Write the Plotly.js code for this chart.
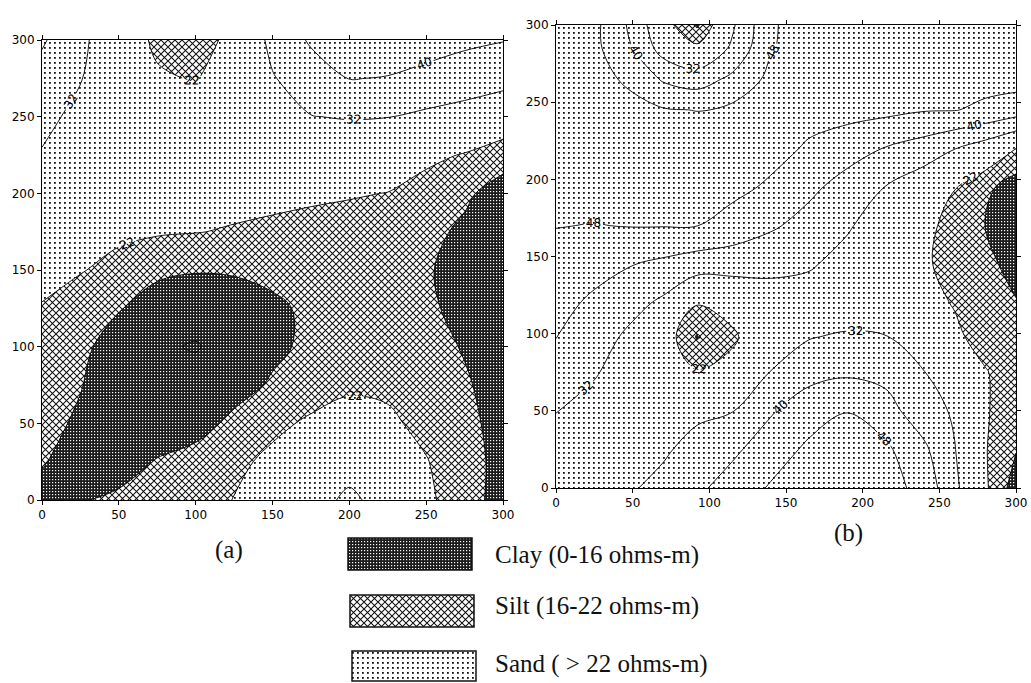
<!DOCTYPE html>
<html><head><meta charset="utf-8">
<script src="https://cdn.plot.ly/plotly-3.0.1.min.js"></script>
<style>html,body{margin:0;padding:0;background:#fff;}#chart{width:1031px;height:683px;}</style>
</head><body><div id="chart"></div>
<script>
// ---------- data ----------
const tickVals = [0, 50, 100, 150, 200, 250, 300];
const tickText = ['0', '50', '100', '150', '200', '250', '300'];

// panel (a) grid (ohm-m), rows from y=0 to y=300
const xA = [0, 25, 50, 75, 100, 125, 150, 175, 200, 225, 250, 275, 300];
const yA = [0, 25, 50, 75, 100, 125, 150, 175, 200, 225, 250, 275, 300];
const zA = [
  [14, 15.5, 17.5, 19, 20.5, 22.1, 25, 28, 34, 28, 23.3, 18.5, 13.7],
  [16.5, 13, 12.5, 16.5, 18.5, 20.5, 23.5, 26, 28, 26, 22.3, 18.5, 14],
  [18, 15, 12, 11.5, 13.5, 17.5, 20.5, 23, 24.5, 23, 20.5, 17.5, 14],
  [19.5, 16.3, 12, 10.5, 11, 13.5, 16.8, 19, 21, 21, 19.5, 16.8, 13],
  [20.5, 18, 12, 9, 7.5, 11, 14.5, 17.5, 19.5, 20, 18.5, 15.5, 11],
  [21.7, 19.5, 16.5, 12.5, 11, 12, 14.5, 17.5, 19, 19, 17.2, 14, 11],
  [23.5, 22.3, 20.5, 17.5, 16.5, 16.8, 18, 19, 19.5, 18.5, 16.8, 13, 10],
  [26, 24.5, 23, 22.6, 22.2, 21.5, 21, 20.5, 20, 19, 17.5, 15, 12],
  [28, 27, 26, 25, 24.5, 24, 23.3, 22.8, 22.4, 21.9, 19.5, 17, 13.5],
  [31.5, 29.5, 28, 27, 26.5, 26, 26, 26.5, 26, 25, 23.5, 21.6, 18.5],
  [34, 30, 28, 27, 27.5, 28.5, 30.5, 31.8, 32.5, 32.2, 30.5, 29, 27],
  [37, 32.3, 28, 23, 21.5, 27, 31.5, 36, 40.2, 39.7, 38, 36.1, 34.4],
  [41, 33.5, 27, 20.5, 19, 24, 34, 41, 43, 44, 43, 41.5, 40.3]
];

// panel (b) grid (ohm-m), rows from y=0 to y=300
const xB = [0, 25, 50, 70, 92, 115, 140, 165, 190, 215, 240, 260, 280, 300];
const yB = [0, 25, 50, 75, 98, 120, 145, 170, 195, 220, 245, 265, 285, 300];
const zB = [
  [28, 29.5, 31.5, 34, 38.5, 43.3, 48.8, 52, 54, 51.5, 45.1, 33.7, 23, 13],
  [29, 28, 29.5, 31, 34.5, 38.5, 44, 49.5, 51.5, 49.5, 41.5, 32.3, 22.4, 16.3],
  [32.2, 30, 27, 28, 30.5, 31.7, 39.2, 44.4, 47.8, 43, 35.4, 31, 22.6, 18.5],
  [36.4, 32.5, 29, 26.5, 22.5, 24.5, 32.2, 37.4, 38.7, 37.7, 32.2, 27.4, 22.5, 18],
  [40.2, 35.7, 30, 26, 15.5, 20.8, 28, 31.5, 33.2, 32.3, 28, 23.5, 19, 17.5],
  [42.6, 38.5, 34.4, 30.5, 22.5, 25, 28, 28.5, 26, 26, 24.5, 21.5, 18.5, 16.3],
  [45.4, 42.9, 40.2, 38.3, 35.8, 35.2, 34.3, 32.8, 29.5, 27.5, 22.8, 20, 17.5, 14],
  [48.2, 47.8, 48.3, 48.3, 48.1, 45.1, 41.1, 37.3, 32.8, 28, 24, 19.5, 15.8, 11],
  [51, 50.5, 50.5, 50.5, 50, 50, 46.9, 41.7, 37.1, 31.8, 27, 22.3, 17.5, 13],
  [52, 51.5, 51, 51, 50.5, 50.5, 50.5, 47.1, 43.1, 39.6, 36.3, 32.2, 28, 22],
  [52, 52, 50.5, 48.6, 47.8, 49.8, 51.5, 50.5, 51, 50, 48.5, 48.3, 46.5, 44],
  [52, 51, 46.1, 39, 36.1, 41.8, 50, 52, 52, 52, 51.5, 51, 50.5, 51],
  [52, 50, 40, 28.5, 23.6, 33.3, 47.4, 52, 53, 53, 53, 53, 52.5, 52],
  [52, 50, 38, 25.1, 15, 30.8, 47, 52, 53, 53, 53, 53, 52.5, 52]
];

// class limits (ohm-m)
const clayMax = 16;
const siltMax = 22;
const innerLevel = 8;
const labeledLevels = [32, 40, 48];
const legendLabels = ['Clay (0-16 ohms-m)', 'Silt (16-22 ohms-m)', 'Sand ( > 22 ohms-m)'];
const panelLabels = ['(a)', '(b)'];

// ---------- styles ----------
const W = 1031, H = 683;
const CLAY_C = 'rgb(40,40,40)', SILT_C = 'rgb(150,150,150)', SAND_C = 'rgb(235,235,235)';
const lineStyle = {color: '#000', width: 0.9, smoothing: 1};
const labelFont = {family: 'DejaVu Sans', size: 12, color: '#000'};

function panelTraces(x, y, z, xa, ya, topLevel) {
  const common = {type: 'contour', x: x, y: y, z: z, xaxis: xa, yaxis: ya,
    autocontour: false, showscale: false, hoverinfo: 'skip'};
  return [
    Object.assign({}, common, {
      contours: {start: clayMax, end: siltMax, size: siltMax - clayMax, coloring: 'fill', showlines: false},
      colorscale: [[0, CLAY_C], [0.5, SILT_C], [1, SAND_C]],
      line: {width: 0, smoothing: 1}
    }),
    Object.assign({}, common, {
      contours: {start: innerLevel, end: clayMax, size: clayMax - innerLevel, coloring: 'none', showlabels: false},
      line: lineStyle
    }),
    Object.assign({}, common, {
      contours: {start: siltMax, end: siltMax, size: 10, coloring: 'none', showlabels: true, labelfont: labelFont},
      line: lineStyle
    }),
    Object.assign({}, common, {
      contours: {start: labeledLevels[0], end: topLevel, size: labeledLevels[1] - labeledLevels[0],
        coloring: 'none', showlabels: true, labelfont: labelFont},
      line: lineStyle
    })
  ];
}

const data = [].concat(
  panelTraces(xA, yA, zA, 'x', 'y', labeledLevels[1]),
  panelTraces(xB, yB, zB, 'x2', 'y2', labeledLevels[2])
);

function axis(domain, anchor) {
  return {domain: domain, anchor: anchor, range: [0, 300], tickvals: tickVals, ticktext: tickText,
    ticks: 'outside', ticklen: 4, tickwidth: 1, tickcolor: '#000', showline: true, linecolor: '#000',
    linewidth: 1, mirror: 'ticks', showgrid: false, zeroline: false,
    tickfont: {family: 'DejaVu Sans', size: 12, color: '#000'}};
}

const px = v => v / W, py = v => 1 - v / H;
const legendBoxes = [
  {x0: 348, x1: 472, y0: 538, y1: 570, c: CLAY_C},
  {x0: 350, x1: 474, y0: 595, y1: 627, c: SILT_C},
  {x0: 352, x1: 476, y0: 651, y1: 681, c: SAND_C}
];
const legendTextY = [555, 606, 664];
const serif = {family: 'Liberation Serif', size: 25, color: '#111'};

const layout = {
  width: W, height: H, margin: {l: 0, r: 0, t: 0, b: 0},
  paper_bgcolor: '#fff', plot_bgcolor: '#fff', showlegend: false,
  xaxis: axis([px(42), px(503)], 'y'),
  yaxis: axis([py(500), py(40)], 'x'),
  xaxis2: axis([px(556), px(1016)], 'y2'),
  yaxis2: axis([py(488), py(25)], 'x2'),
  shapes: legendBoxes.map(b => ({type: 'rect', xref: 'paper', yref: 'paper',
    x0: px(b.x0), x1: px(b.x1), y0: py(b.y1), y1: py(b.y0), fillcolor: b.c,
    line: {color: '#111', width: 1.5}})),
  annotations: legendLabels.map((t, i) => ({text: t, xref: 'paper', yref: 'paper', x: px(493),
    y: py(legendTextY[i]), xanchor: 'left', yanchor: 'middle', showarrow: false, font: serif}))
    .concat([
      {text: panelLabels[0], xref: 'paper', yref: 'paper', x: px(229), y: py(550), xanchor: 'center', yanchor: 'middle', showarrow: false, font: serif},
      {text: panelLabels[1], xref: 'paper', yref: 'paper', x: px(848), y: py(533), xanchor: 'center', yanchor: 'middle', showarrow: false, font: serif}
    ])
};

// ---------- hatch patterns applied to the filled classes ----------
function addPatterns(gd) {
  const NS = 'http://www.w3.org/2000/svg';
  const svg = gd.querySelector('svg.main-svg');
  let defs = svg.querySelector('defs');
  if (!defs) { defs = document.createElementNS(NS, 'defs'); svg.insertBefore(defs, svg.firstChild); }
  function el(tag, attrs, parent) {
    const e = document.createElementNS(NS, tag);
    for (const k in attrs) e.setAttribute(k, attrs[k]);
    if (parent) parent.appendChild(e);
    return e;
  }
  const clay = el('pattern', {id: 'patClay', width: 3, height: 3, patternUnits: 'userSpaceOnUse'}, defs);
  el('rect', {x: 0, y: 0, width: 3, height: 3, fill: '#1c1c1c'}, clay);
  el('rect', {x: 1, y: 1, width: 1.2, height: 1.2, fill: '#fff'}, clay);
  const silt = el('pattern', {id: 'patSilt', width: 7, height: 7, patternUnits: 'userSpaceOnUse'}, defs);
  el('rect', {x: 0, y: 0, width: 7, height: 7, fill: '#fff'}, silt);
  el('path', {d: 'M-1,-1 L8,8 M8,-1 L-1,8', stroke: '#111', 'stroke-width': 1.05, fill: 'none'}, silt);
  const sand = el('pattern', {id: 'patSand', width: 5, height: 5, patternUnits: 'userSpaceOnUse'}, defs);
  el('rect', {x: 0, y: 0, width: 5, height: 5, fill: '#fff'}, sand);
  el('rect', {x: 2, y: 2, width: 1.8, height: 1.8, fill: '#111'}, sand);

  const paths = gd.querySelectorAll('.contourbg path, .contourfill path, .shapelayer path');
  paths.forEach(p => {
    const f = p.style.fill || p.getAttribute('fill') || '';
    const m = f.match(/\d+/);
    if (!m) return;
    const r = +m[0];
    const id = r < 80 ? 'patClay' : (r < 200 ? 'patSilt' : 'patSand');
    p.style.fill = 'url(#' + id + ')';
    p.style.fillOpacity = 1;
  });
}

Plotly.newPlot('chart', data, layout, {staticPlot: true, displayModeBar: false, responsive: false})
  .then(gd => addPatterns(gd));
</script>
</body></html>
